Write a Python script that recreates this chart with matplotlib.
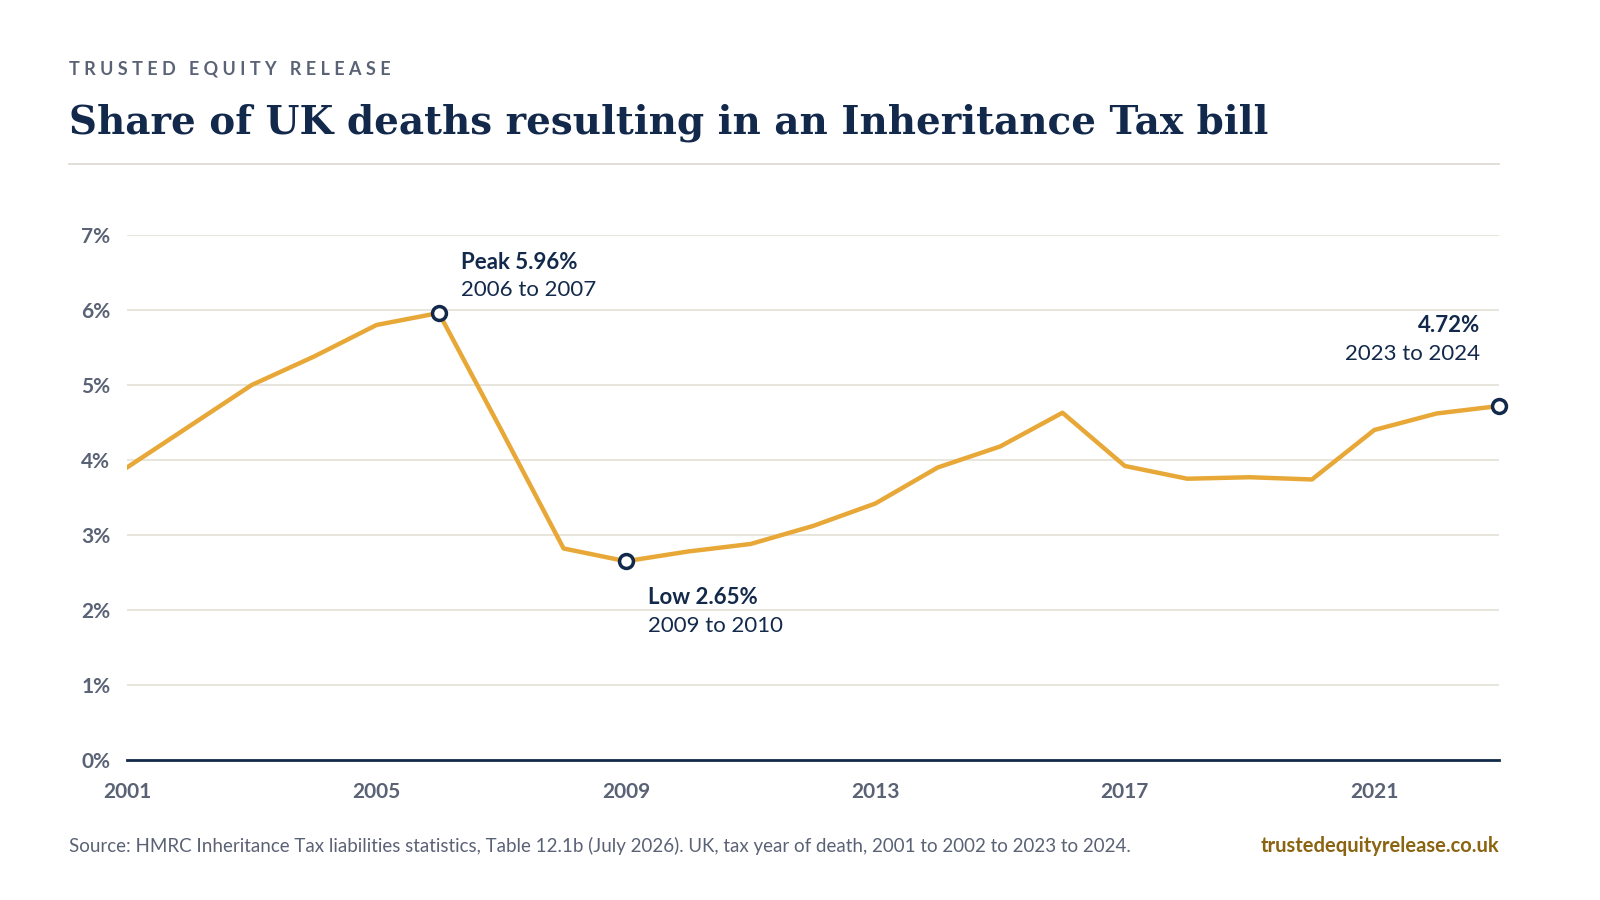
import matplotlib.pyplot as plt
import matplotlib.lines as mlines

years = list(range(2001, 2024))
share = [3.90, 4.45, 5.00, 5.38, 5.80, 5.96, 4.40, 2.82, 2.65, 2.78, 2.88, 3.12,
         3.42, 3.90, 4.18, 4.63, 3.92, 3.75, 3.77, 3.74, 4.40, 4.62, 4.72]
x_ticks = [2001, 2005, 2009, 2013, 2017, 2021]
y_ticks = [0, 1, 2, 3, 4, 5, 6, 7]

navy = '#13294B'
gold = '#E8A838'
grey = '#5A6275'
plt.rcParams['font.family'] = ['Lato', 'DejaVu Sans']

fig = plt.figure(figsize=(16, 9), dpi=100)
ax = fig.add_axes([0.0794, 0.1556, 0.8575, 0.5833])

ax.plot(years, share, color=gold, lw=3.2, zorder=3, solid_joinstyle='round')
for yr in [2006, 2009, 2023]:
    v = share[years.index(yr)]
    ax.plot(yr, v, 'o', ms=10, mfc='white', mec=navy, mew=2.5, zorder=5, clip_on=False)

ax.set_xlim(2001, 2023)
ax.set_ylim(0, 7)
ax.set_yticks(y_ticks)
ax.set_yticklabels([f'{t}%' for t in y_ticks])
ax.set_xticks(x_ticks)
ax.grid(axis='y', color='#E4E2D6', lw=1.2)
ax.set_axisbelow(True)
for s in ['top', 'right', 'left']:
    ax.spines[s].set_visible(False)
ax.spines['bottom'].set_color(navy)
ax.spines['bottom'].set_linewidth(2)
ax.tick_params(axis='both', length=0, labelsize=15, labelcolor=grey, pad=12)
ax.tick_params(axis='x', pad=16)
for lab in ax.get_xticklabels() + ax.get_yticklabels():
    lab.set_fontweight('bold')

# annotations
ax.text(2006.35, 6.55, 'Peak 5.96%', fontsize=16, fontweight='bold', color=navy)
ax.text(2006.35, 6.18, '2006 to 2007', fontsize=16, color=navy)
ax.text(2009.35, 2.08, 'Low 2.65%', fontsize=16, fontweight='bold', color=navy)
ax.text(2009.35, 1.71, '2009 to 2010', fontsize=16, color=navy)
ax.text(2022.7, 5.70, '4.72%', fontsize=16, fontweight='bold', color=navy, ha='right')
ax.text(2022.7, 5.33, '2023 to 2024', fontsize=16, color=navy, ha='right')

fig.text(0.043, 0.923, 'T R U S T E D   E Q U I T Y   R E L E A S E', fontsize=13, fontweight='bold',
         color=grey, va='center')
fig.text(0.043, 0.864, 'Share of UK deaths resulting in an Inheritance Tax bill',
         fontsize=28, fontweight='bold', color=navy, va='center', family='DejaVu Serif')
fig.add_artist(mlines.Line2D([0.043, 0.937], [0.818, 0.818], color='#DDDBD2', lw=1.3))
fig.text(0.043, 0.06, 'Source: HMRC Inheritance Tax liabilities statistics, Table 12.1b (July 2026). '
         'UK, tax year of death, 2001 to 2002 to 2023 to 2024.', fontsize=13.5, color=grey, va='center')
fig.text(0.937, 0.06, 'trustedequityrelease.co.uk', fontsize=14.5, fontweight='bold',
         color='#8A6410', va='center', ha='right')

fig.savefig('out.png', dpi=100, facecolor='white')
